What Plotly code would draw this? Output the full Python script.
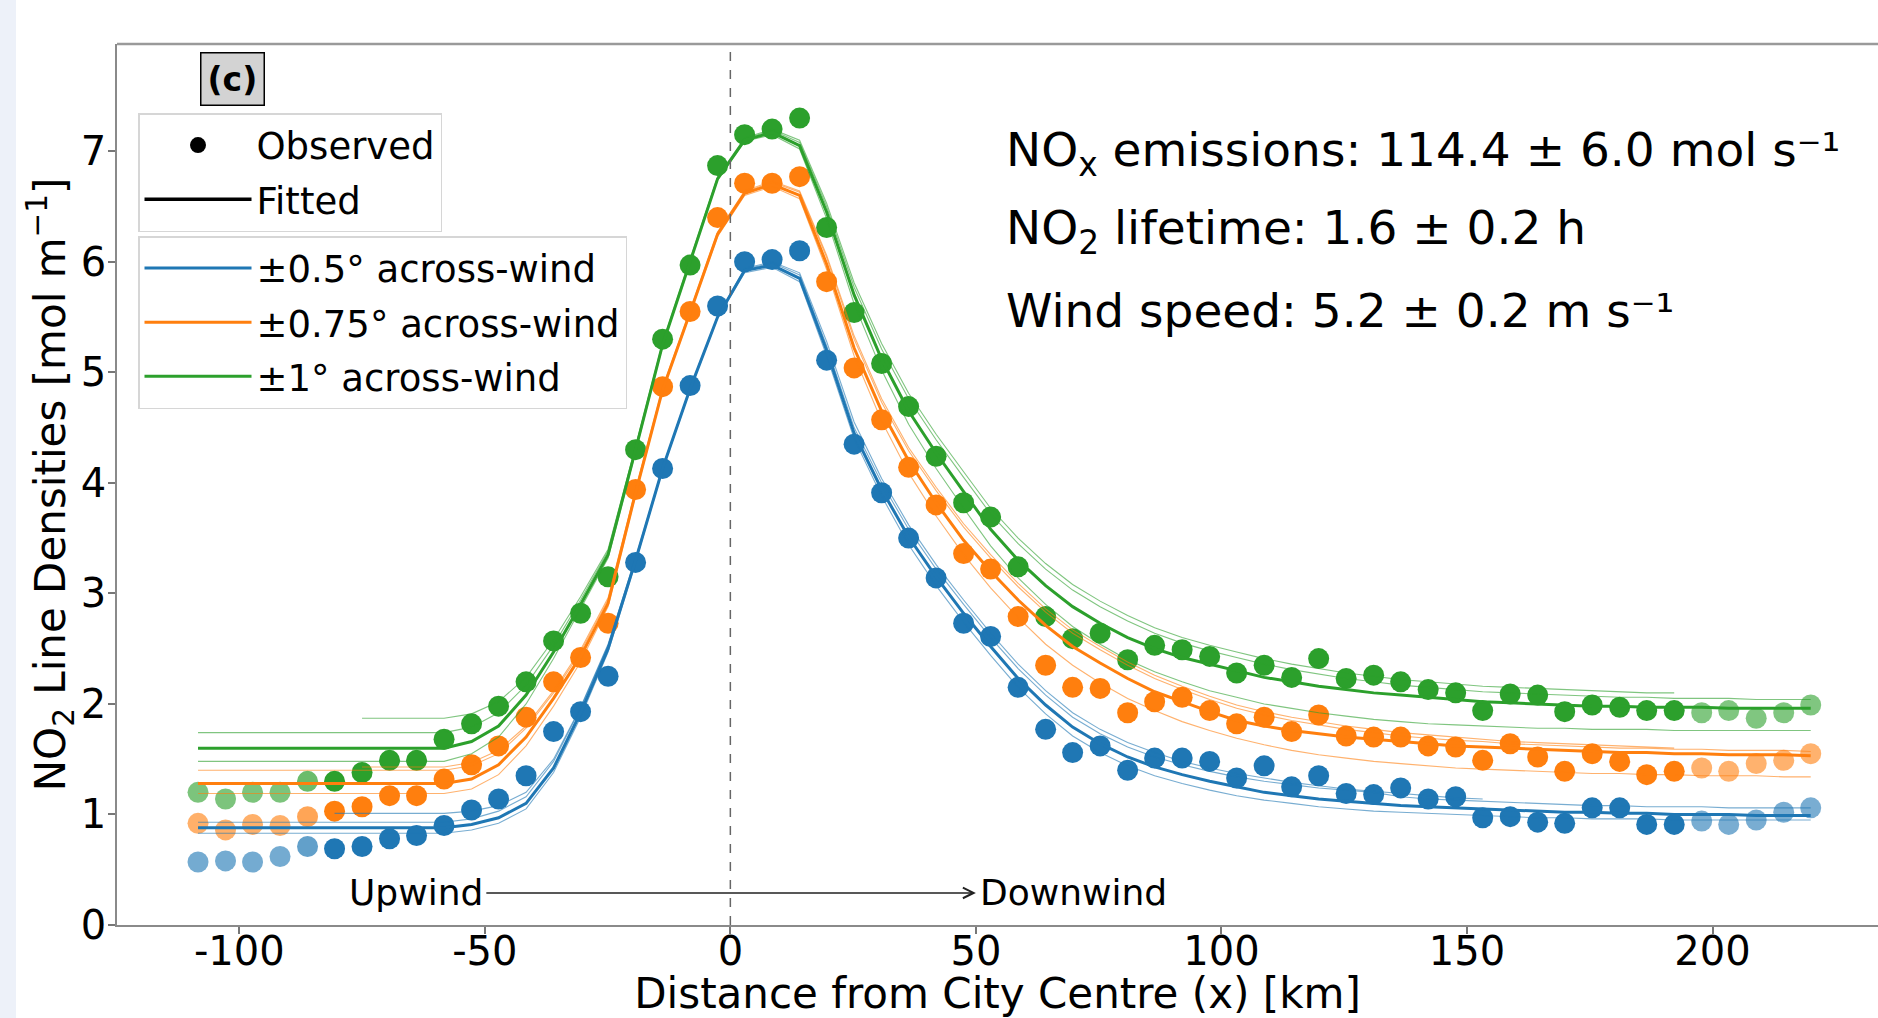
import plotly.graph_objects as go

# ---------------- data ----------------
x_km = [-108.4, -102.8, -97.3, -91.7, -86.1, -80.6, -75.0, -69.4, -63.9, -58.3,
        -52.7, -47.2, -41.6, -36.0, -30.5, -24.9, -19.3, -13.8, -8.2, -2.6,
        2.9, 8.5, 14.1, 19.6, 25.2, 30.8, 36.3, 41.9, 47.5, 53.0,
        58.6, 64.2, 69.7, 75.3, 80.9, 86.4, 92.0, 97.6, 103.1, 108.7,
        114.3, 119.8, 125.4, 131.0, 136.5, 142.1, 147.7, 153.2, 158.8, 164.4,
        169.9, 175.5, 181.1, 186.6, 192.2, 197.8, 203.3, 208.9, 214.5, 220.0]

obs_05 = [0.57, 0.58, 0.57, 0.62, 0.71, 0.69, 0.71, 0.78, 0.81, 0.90,
          1.04, 1.14, 1.35, 1.75, 1.93, 2.25, 3.28, 4.13, 4.88, 5.60,
          6.00, 6.02, 6.10, 5.11, 4.35, 3.91, 3.50, 3.14, 2.73, 2.61,
          2.15, 1.77, 1.56, 1.62, 1.40, 1.51, 1.51, 1.48, 1.33, 1.44,
          1.25, 1.35, 1.19, 1.18, 1.24, 1.14, 1.16, 0.97, 0.98, 0.93,
          0.92, 1.06, 1.06, 0.91, 0.91, 0.94, 0.91, 0.95, 1.02, 1.06]

obs_075 = [0.92, 0.86, 0.91, 0.90, 0.98, 1.03, 1.07, 1.17, 1.17, 1.32,
           1.45, 1.62, 1.88, 2.20, 2.42, 2.73, 3.94, 4.87, 5.55, 6.40,
           6.71, 6.71, 6.77, 5.82, 5.04, 4.57, 4.14, 3.80, 3.36, 3.22,
           2.79, 2.35, 2.15, 2.14, 1.92, 2.02, 2.06, 1.94, 1.82, 1.88,
           1.75, 1.90, 1.71, 1.70, 1.70, 1.62, 1.61, 1.49, 1.64, 1.52,
           1.39, 1.55, 1.48, 1.36, 1.39, 1.42, 1.39, 1.46, 1.49, 1.55]

obs_1 = [1.20, 1.14, 1.20, 1.20, 1.30, 1.30, 1.38, 1.49, 1.49, 1.68,
         1.82, 1.98, 2.20, 2.57, 2.82, 3.15, 4.30, 5.30, 5.97, 6.87,
         7.15, 7.20, 7.30, 6.31, 5.54, 5.08, 4.69, 4.24, 3.82, 3.69,
         3.24, 2.79, 2.59, 2.64, 2.40, 2.53, 2.49, 2.43, 2.28, 2.35,
         2.24, 2.41, 2.23, 2.26, 2.20, 2.13, 2.10, 1.94, 2.09, 2.08,
         1.93, 1.99, 1.97, 1.94, 1.94, 1.92, 1.94, 1.87, 1.92, 1.99]

# fitted curves (main fit + a few ensemble members), read at the same x positions
fit_05 = [0.88, 0.88, 0.88, 0.88, 0.88, 0.88, 0.88, 0.88, 0.88, 0.88,
          0.91, 0.97, 1.10, 1.42, 1.92, 2.50, 3.30, 4.13, 4.85, 5.50,
          5.92, 5.97, 5.85, 5.20, 4.45, 3.94, 3.51, 3.15, 2.82, 2.52,
          2.23, 1.99, 1.79, 1.64, 1.52, 1.43, 1.36, 1.30, 1.25, 1.20,
          1.17, 1.14, 1.12, 1.10, 1.08, 1.07, 1.06, 1.05, 1.04, 1.03,
          1.02, 1.02, 1.01, 1.01, 1.00, 1.00, 1.00, 0.99, 0.99, 0.99]
fit_05_hi = [0.93, 0.93, 0.93, 0.93, 0.93, 0.93, 0.93, 0.93, 0.93, 0.93,
             0.96, 1.03, 1.16, 1.48, 1.96, 2.53, 3.31, 4.13, 4.85, 5.50,
             5.93, 5.99, 5.88, 5.24, 4.50, 4.00, 3.58, 3.22, 2.90, 2.60,
             2.32, 2.08, 1.88, 1.73, 1.61, 1.52, 1.45, 1.39, 1.34, 1.30,
             1.27, 1.24, 1.22, 1.20, 1.16, 1.14, 1.13, 1.12, 1.11, 1.10,
             1.09, 1.08, 1.08, 1.07, 1.07, 1.07, 1.06, 1.06, 1.06, 1.06]
fit_05_lo = [0.83, 0.83, 0.83, 0.83, 0.83, 0.83, 0.83, 0.83, 0.83, 0.83,
             0.86, 0.92, 1.05, 1.38, 1.88, 2.47, 3.28, 4.12, 4.84, 5.49,
             5.90, 5.95, 5.82, 5.15, 4.40, 3.88, 3.44, 3.07, 2.74, 2.44,
             2.15, 1.91, 1.71, 1.56, 1.44, 1.35, 1.28, 1.22, 1.17, 1.13,
             1.10, 1.07, 1.05, 1.03, 1.02, 1.01, 1.00, 0.99, 0.98, 0.97,
             0.97, 0.96, 0.96, 0.96, 0.95, 0.95, 0.95, 0.95, 0.95, 0.95]
fit_05_short = [None, None, None, None, None, 1.01, 1.01, 1.01, 1.01, 1.01,
                1.03, 1.08, 1.20, 1.50, 1.97, 2.54, 3.32, 4.14, 4.86, 5.51,
                5.94, 6.00, 5.90, 5.28, 4.55, 4.04, 3.62, 3.26, 2.94, 2.64,
                2.36, 2.12, 1.92, 1.77, 1.65, 1.56, 1.48, 1.42, 1.37, 1.33,
                1.29, 1.26, 1.23, 1.21, 1.19, 1.17, 1.15, 1.14, None, None,
                None, None, None, None, None, None, None, None, None, None]

fit_075 = [1.28, 1.28, 1.28, 1.28, 1.28, 1.28, 1.28, 1.28, 1.28, 1.28,
           1.32, 1.45, 1.70, 2.05, 2.43, 2.91, 3.91, 4.84, 5.54, 6.25,
           6.62, 6.70, 6.60, 5.98, 5.22, 4.65, 4.20, 3.82, 3.48, 3.20,
           2.94, 2.71, 2.52, 2.37, 2.23, 2.11, 2.02, 1.93, 1.85, 1.80,
           1.76, 1.73, 1.70, 1.68, 1.66, 1.64, 1.62, 1.61, 1.60, 1.59,
           1.58, 1.57, 1.56, 1.56, 1.55, 1.55, 1.54, 1.54, 1.54, 1.53]
fit_075_hi = [1.40, 1.40, 1.40, 1.40, 1.40, 1.40, 1.40, 1.40, 1.40, 1.40,
              1.44, 1.55, 1.78, 2.10, 2.47, 2.94, 3.93, 4.85, 5.55, 6.26,
              6.63, 6.72, 6.63, 6.04, 5.30, 4.73, 4.29, 3.93, 3.60, 3.32,
              3.06, 2.83, 2.64, 2.49, 2.35, 2.23, 2.13, 2.04, 1.96, 1.90,
              1.85, 1.81, 1.77, 1.74, 1.71, 1.69, 1.67, 1.66, 1.64, 1.63,
              1.62, 1.61, 1.60, 1.60, 1.59, 1.59, 1.58, 1.58, 1.58, 1.57]
fit_075_lo = [1.19, 1.19, 1.19, 1.19, 1.19, 1.19, 1.19, 1.19, 1.19, 1.19,
              1.23, 1.36, 1.62, 1.98, 2.38, 2.88, 3.89, 4.83, 5.53, 6.23,
              6.60, 6.68, 6.57, 5.93, 5.15, 4.56, 4.09, 3.70, 3.35, 3.05,
              2.78, 2.54, 2.35, 2.19, 2.05, 1.94, 1.84, 1.76, 1.69, 1.63,
              1.58, 1.54, 1.51, 1.48, 1.46, 1.44, 1.42, 1.41, 1.40, 1.39,
              1.38, 1.37, 1.37, 1.36, 1.36, 1.35, 1.35, 1.35, 1.34, 1.34]
fit_075_short = [None, None, None, None, None, None, 1.43, 1.43, 1.43, 1.43,
                 1.47, 1.58, 1.80, 2.12, 2.49, 2.96, 3.94, 4.86, 5.56, 6.27,
                 6.64, 6.73, 6.64, 6.06, 5.33, 4.76, 4.32, 3.96, 3.63, 3.35,
                 3.09, 2.86, 2.67, 2.52, 2.38, 2.26, 2.16, 2.07, 1.99, 1.93,
                 1.88, 1.84, 1.80, 1.77, 1.74, 1.72, 1.70, 1.68, 1.66, 1.65,
                 1.64, 1.63, 1.62, 1.61, 1.60, None, None, None, None, None]

fit_1 = [1.60, 1.60, 1.60, 1.60, 1.60, 1.60, 1.60, 1.60, 1.60, 1.60,
         1.66, 1.80, 2.08, 2.47, 2.90, 3.35, 4.30, 5.25, 6.00, 6.75,
         7.10, 7.17, 7.05, 6.45, 5.70, 5.12, 4.65, 4.27, 3.92, 3.58,
         3.30, 3.07, 2.88, 2.73, 2.60, 2.50, 2.42, 2.36, 2.30, 2.24,
         2.20, 2.16, 2.13, 2.10, 2.08, 2.06, 2.04, 2.02, 2.01, 2.00,
         1.99, 1.98, 1.98, 1.97, 1.97, 1.97, 1.96, 1.96, 1.96, 1.96]
fit_1_hi = [1.74, 1.74, 1.74, 1.74, 1.74, 1.74, 1.74, 1.74, 1.74, 1.74,
            1.79, 1.92, 2.17, 2.53, 2.94, 3.38, 4.32, 5.26, 6.01, 6.76,
            7.11, 7.19, 7.08, 6.50, 5.77, 5.21, 4.76, 4.39, 4.05, 3.72,
            3.45, 3.22, 3.03, 2.88, 2.75, 2.64, 2.55, 2.48, 2.42, 2.36,
            2.31, 2.27, 2.23, 2.20, 2.17, 2.15, 2.13, 2.11, 2.10, 2.09,
            2.08, 2.07, 2.06, 2.06, 2.05, 2.05, 2.05, 2.04, 2.04, 2.04]
fit_1_lo = [1.48, 1.48, 1.48, 1.48, 1.48, 1.48, 1.48, 1.48, 1.48, 1.48,
            1.55, 1.70, 2.00, 2.41, 2.86, 3.32, 4.28, 5.24, 5.99, 6.74,
            7.09, 7.15, 7.02, 6.39, 5.62, 5.02, 4.53, 4.13, 3.77, 3.43,
            3.14, 2.90, 2.70, 2.54, 2.40, 2.29, 2.20, 2.12, 2.06, 2.00,
            1.96, 1.92, 1.89, 1.86, 1.84, 1.82, 1.81, 1.80, 1.79, 1.78,
            1.78, 1.77, 1.77, 1.77, 1.76, 1.76, 1.76, 1.76, 1.76, 1.76]
fit_1_short = [None, None, None, None, None, None, 1.87, 1.87, 1.87, 1.87,
               1.91, 2.02, 2.24, 2.58, 2.97, 3.40, 4.33, 5.27, 6.02, 6.77,
               7.12, 7.20, 7.10, 6.53, 5.81, 5.26, 4.81, 4.44, 4.10, 3.77,
               3.50, 3.27, 3.08, 2.93, 2.80, 2.69, 2.60, 2.53, 2.47, 2.41,
               2.36, 2.32, 2.28, 2.25, 2.22, 2.20, 2.18, 2.16, 2.15, 2.14,
               2.13, 2.12, 2.11, 2.10, 2.10, None, None, None, None, None]

series_names = ["±0.5° across-wind", "±0.75° across-wind", "±1° across-wind"]
x_ticks = [-100, -50, 0, 50, 100, 150, 200]
x_tick_text = ["-100", "-50", "0", "50", "100", "150", "200"]
y_ticks = [0, 1, 2, 3, 4, 5, 6, 7]

# point transparency (edge points faded, as in the reference)
point_alpha = [0.62, 0.62, 0.62, 0.62, 0.7] + [1.0] * 50 + [0.6] * 5

for arr in [obs_05, obs_075, obs_1, fit_05, fit_05_hi, fit_05_lo, fit_05_short,
            fit_075, fit_075_hi, fit_075_lo, fit_075_short,
            fit_1, fit_1_hi, fit_1_lo, fit_1_short, point_alpha]:
    assert len(arr) == len(x_km), len(arr)

# ---------------- styling ----------------
FONT = "DejaVu Sans"
colors = ["#1f77b4", "#ff7f0e", "#2ca02c"]
W, H = 1878, 1018
ML, MR, MT, MB = 117, 0, 44, 93
PW, PH = W - ML - MR, H - MT - MB

def px_x(p):
    return (p - ML) / PW

def px_y(p):
    return (H - MB - p) / PH

fig = go.Figure()

obs_all = [obs_05, obs_075, obs_1]
fits_all = [
    (fit_05, [fit_05_hi, fit_05_lo, fit_05_short]),
    (fit_075, [fit_075_hi, fit_075_lo, fit_075_short]),
    (fit_1, [fit_1_hi, fit_1_lo, fit_1_short]),
]

# observed points
for obs, c in zip(obs_all, colors):
    fig.add_trace(go.Scatter(
        x=x_km, y=obs, mode="markers",
        marker=dict(color=c, size=21, opacity=point_alpha, line=dict(width=0)),
        showlegend=False, hoverinfo="skip"))

# fitted ensemble (thin) and main fit (thick)
for (main, thins), c, name in zip(fits_all, colors, series_names):
    for t in thins:
        fig.add_trace(go.Scatter(
            x=x_km, y=t, mode="lines", line=dict(color=c, width=1.1),
            opacity=0.6, showlegend=False, hoverinfo="skip"))
for (main, thins), c, name in zip(fits_all, colors, series_names):
    fig.add_trace(go.Scatter(
        x=x_km, y=main, mode="lines", line=dict(color=c, width=3),
        name=name, legend="legend2", legendgroup=name, showlegend=True))

# legend-only entries
fig.add_trace(go.Scatter(x=[None], y=[None], mode="markers",
                         marker=dict(color="black", size=18),
                         name="Observed", legend="legend", legendgroup="obs"))
fig.add_trace(go.Scatter(x=[None], y=[None], mode="lines",
                         line=dict(color="black", width=3.5),
                         name="Fitted", legend="legend", legendgroup="fit"))

legend_common = dict(
    xanchor="left", yanchor="top",
    bgcolor="rgba(255,255,255,0.85)", bordercolor="#d6d6d6", borderwidth=1.5,
    font=dict(family=FONT, size=37, color="black"),
    tracegroupgap=3, itemwidth=107,
)

fig.update_layout(
    width=W, height=H,
    margin=dict(l=ML, r=MR, t=MT, b=MB, pad=0),
    paper_bgcolor="white", plot_bgcolor="white",
    font=dict(family=FONT, color="black"),
    legend=dict(x=px_x(138), y=px_y(113), **legend_common),
    legend2=dict(x=px_x(138), y=px_y(236), **legend_common),
    showlegend=True,
)

fig.update_xaxes(
    range=[-124.9, 233.7], tickvals=x_ticks, ticktext=x_tick_text,
    showgrid=False, zeroline=False, showline=True, linecolor="#8a8a8a", linewidth=1.5,
    ticks="outside", ticklen=7, tickwidth=1.5, tickcolor="#777",
    ticklabelstandoff=-17,
    tickfont=dict(family=FONT, size=40, color="black"),
    title=dict(text="Distance from City Centre (x) [km]",
               font=dict(family=FONT, size=42, color="black"), standoff=8),
    automargin=False,
)
fig.update_yaxes(
    range=[0, 7.97], tickvals=y_ticks,
    showgrid=False, zeroline=False, showline=True, linecolor="#8a8a8a", linewidth=1.5,
    ticks="outside", ticklen=7, tickwidth=1.5, tickcolor="#777",
    ticklabelstandoff=-6,
    tickfont=dict(family=FONT, size=40, color="black"),
    title=dict(text="NO<sub>2</sub> Line Densities [mol m<sup>−1</sup>]",
               font=dict(family=FONT, size=42, color="black"), standoff=0),
    automargin=False,
)

# left pale strip of the page and top spine
fig.add_shape(type="rect", xref="paper", yref="paper",
              x0=px_x(0), x1=px_x(16), y0=px_y(H), y1=px_y(0),
              fillcolor="#edf1f9", line=dict(width=0), layer="below")
fig.add_shape(type="line", xref="paper", yref="paper", x0=0, x1=1, y0=1, y1=1,
              line=dict(color="#9a9a9a", width=2.5))
# city centre dashed line
fig.add_shape(type="line", xref="x", yref="paper", x0=0, x1=0, y0=0, y1=1,
              line=dict(color="#666666", width=1.5, dash="dash"))

# panel label
fig.add_annotation(xref="paper", yref="paper", x=px_x(232), y=px_y(79),
                   xanchor="center", yanchor="middle",
                   text="<b>(c)</b>", showarrow=False,
                   font=dict(family=FONT, size=33, color="black"),
                   bgcolor="#d3d3d3", bordercolor="black", borderwidth=1.5, borderpad=6)

# fit results text
info_lines = [
    "NO<sub>x</sub> emissions: 114.4 ± 6.0 mol s⁻¹",
    "NO<sub>2</sub> lifetime: 1.6 ± 0.2 h",
    "Wind speed: 5.2 ± 0.2 m s⁻¹",
]
for txt, yp in zip(info_lines, [153, 231, 310]):
    fig.add_annotation(xref="paper", yref="paper", x=px_x(1004), y=px_y(yp),
                       text=txt, showarrow=False, xanchor="left", yanchor="middle",
                       font=dict(family=FONT, size=47, color="black"))

# upwind / downwind arrow
fig.add_annotation(x=50, y=0.29, ax=-50, ay=0.29, axref="x", ayref="y",
                   xref="x", yref="y", text="", showarrow=True,
                   arrowhead=5, arrowsize=1.5, arrowwidth=1.4, arrowcolor="#222",
                   standoff=0, startstandoff=0)
fig.add_annotation(x=-50, y=0.29, text="Upwind", showarrow=False,
                   xanchor="right", yanchor="middle",
                   font=dict(family=FONT, size=36, color="black"))
fig.add_annotation(x=50.5, y=0.29, text="Downwind", showarrow=False,
                   xanchor="left", yanchor="middle",
                   font=dict(family=FONT, size=36, color="black"))

fig.write_html("out.html")
